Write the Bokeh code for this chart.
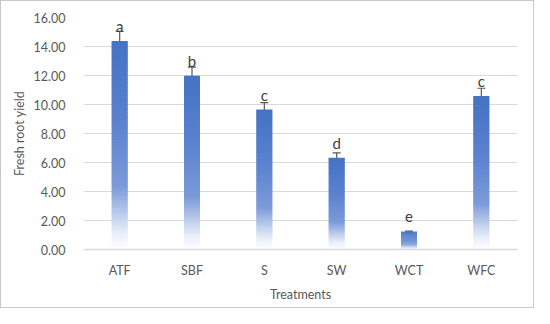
from bokeh.plotting import figure
from bokeh.models import (FactorRange, Range1d, FixedTicker, NumeralTickFormatter,
                          Whisker, ColumnDataSource, LabelSet)
from bokeh.embed import file_html
from bokeh.resources import INLINE
from bokeh.core.properties import value

treatments = ["ATF", "SBF", "S", "SW", "WCT", "WFC"]
yield_mean = [14.38, 11.98, 9.65, 6.32, 1.22, 10.58]
yield_err = [0.67, 0.60, 0.48, 0.34, 0.05, 0.54]
letters = ["a", "b", "c", "d", "e", "c"]
y_ticks = [0, 2, 4, 6, 8, 10, 12, 14, 16]

# gradient stops: fraction of bar height from bottom -> colour
stops = [(0.0, (255, 255, 255)), (0.08, (232, 238, 249)), (0.30, (124, 155, 217)),
         (0.60, (92, 130, 208)), (1.0, (68, 114, 196))]


def grad(f):
    for (f0, c0), (f1, c1) in zip(stops[:-1], stops[1:]):
        if f0 <= f <= f1:
            t = (f - f0) / (f1 - f0)
            c = [round(a + (b - a) * t) for a, b in zip(c0, c1)]
            return "#%02x%02x%02x" % tuple(c)
    return "#4472c4"


p = figure(width=534, height=308, x_range=FactorRange(*treatments),
           y_range=Range1d(0, 16), output_backend="svg", toolbar_location=None,
           min_border_left=82, min_border_right=18, min_border_top=16,
           min_border_bottom=60)
p.styles = {"border": "1px solid #c8c8c8", "box-sizing": "border-box"}
p.outline_line_color = None
p.background_fill_color = "white"
p.border_fill_color = "white"

N = 80
xs, bots, tops, cols = [], [], [], []
for cat, v in zip(treatments, yield_mean):
    for k in range(N):
        f0, f1 = k / N, (k + 1) / N
        xs.append(cat)
        bots.append(v * f0)
        tops.append(v * min(1.0, (k + 1.8) / N))
        cols.append(grad((f0 + f1) / 2))
p.vbar(x=xs, bottom=bots, top=tops, width=0.22, fill_color=cols, line_color=None)

src = ColumnDataSource(dict(x=treatments, m=yield_mean,
                            lo=[m - e for m, e in zip(yield_mean, yield_err)],
                            hi=[m + e for m, e in zip(yield_mean, yield_err)],
                            lab=letters))
w = Whisker(source=src, base="x", lower="lo", upper="hi", line_color="#595959",
            line_width=1.2)
for h in (w.upper_head, w.lower_head):
    h.size = 8
    h.line_color = "#595959"
    h.line_width = 1.2
p.add_layout(w)

labels = LabelSet(source=src, x="x", y="m", text="lab", text_align="center",
                  text_baseline="middle", text_font=value("Lato"),
                  text_font_size="15px", text_color="#404040", y_offset=15)
p.add_layout(labels)

p.yaxis.ticker = FixedTicker(ticks=y_ticks)
p.yaxis.formatter = NumeralTickFormatter(format="0.00")
p.xgrid.grid_line_color = None
p.ygrid.grid_line_color = "#d9d9d9"
p.ygrid.grid_line_width = 1

for ax in (p.xaxis, p.yaxis):
    ax.major_tick_line_color = None
    ax.minor_tick_line_color = None
    ax.major_label_text_font = "Lato"
    ax.major_label_text_font_size = "12.5px"
    ax.major_label_text_color = "#595959"
    ax.axis_label_text_font = "Lato"
    ax.axis_label_text_font_size = "12.5px"
    ax.axis_label_text_color = "#595959"
    ax.axis_label_text_font_style = "normal"
p.yaxis.axis_line_color = None
p.xaxis.axis_line_color = "#d9d9d9"
p.xaxis.axis_line_width = 1.5
p.yaxis.axis_label = "Fresh root yield"
p.xaxis.axis_label = "Treatments"
p.xaxis.major_label_standoff = 7
p.yaxis.major_label_standoff = 12
p.xaxis.axis_label_standoff = 6
p.yaxis.axis_label_standoff = 4

open("out.html", "w").write(file_html(p, INLINE))
